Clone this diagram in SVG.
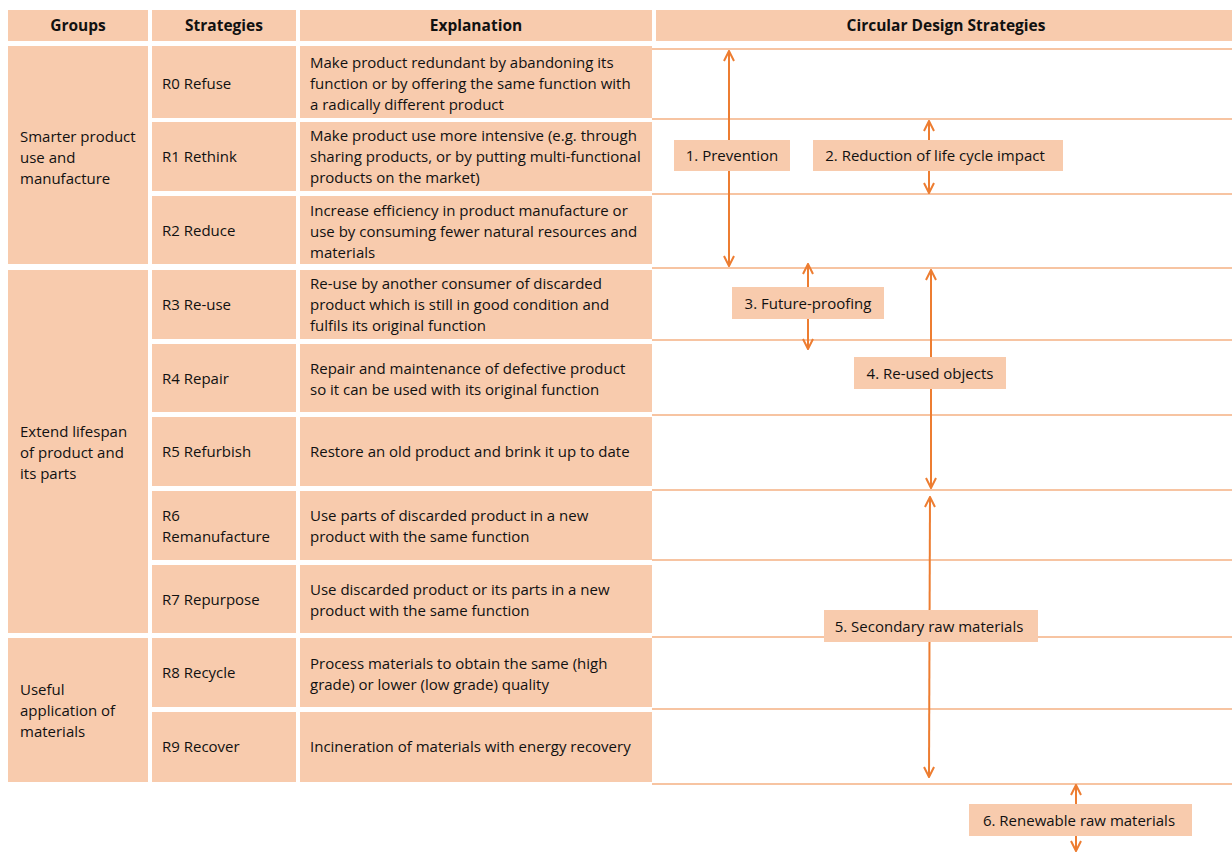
<svg xmlns="http://www.w3.org/2000/svg" width="1232" height="852" viewBox="0 0 1232 852">
  <defs>
    <style>
      .cell { fill: #f8cbad; }
      .t { font-family: "Open Sans", "Liberation Sans", sans-serif; font-size: 15px; fill: #111; }
      .h { font-family: "Open Sans", "Liberation Sans", sans-serif; font-size: 15.5px; font-weight: bold; fill: #111; text-anchor: middle; }
      .lbl { font-family: "Open Sans", "Liberation Sans", sans-serif; font-size: 15px; fill: #111; text-anchor: middle; }
      .rule { stroke: #f4b183; stroke-width: 1.5; fill: none; }
      .arr { stroke: #ed7d31; stroke-width: 2; fill: none; marker-start: url(#head); marker-end: url(#head); }
    </style>
    <marker id="head" viewBox="0 0 12 12" refX="11" refY="6" markerWidth="12" markerHeight="12" markerUnits="userSpaceOnUse" orient="auto-start-reverse">
      <path d="M1,1 L11,6 L1,11" fill="none" stroke="#ed7d31" stroke-width="2"/>
    </marker>
  </defs>

  <!-- header row -->
  <g id="header">
    <rect class="cell" x="8" y="10" width="140" height="31"/>
    <rect class="cell" x="152" y="10" width="144" height="31"/>
    <rect class="cell" x="300" y="10" width="352" height="31"/>
    <rect class="cell" x="656" y="10" width="576" height="31"/>
    <text class="h" x="78" y="31">Groups</text>
    <text class="h" x="224" y="31">Strategies</text>
    <text class="h" x="476" y="31">Explanation</text>
    <text class="h" x="946" y="31">Circular Design Strategies</text>
  </g>

  <!-- group cells -->
  <g id="group-smarter">
    <rect class="cell" x="8" y="46" width="140" height="218"/>
    <text class="t" x="20" y="142">Smarter product</text>
    <text class="t" x="20" y="163">use and</text>
    <text class="t" x="20" y="184">manufacture</text>
  </g>
  <g id="group-extend">
    <rect class="cell" x="8" y="270" width="140" height="363"/>
    <text class="t" x="20" y="437">Extend lifespan</text>
    <text class="t" x="20" y="458">of product and</text>
    <text class="t" x="20" y="479">its parts</text>
  </g>
  <g id="group-useful">
    <rect class="cell" x="8" y="638" width="140" height="144"/>
    <text class="t" x="20" y="695">Useful</text>
    <text class="t" x="20" y="716">application of</text>
    <text class="t" x="20" y="737">materials</text>
  </g>

  <!-- strategy rows -->
  <g id="r0">
    <rect class="cell" x="152" y="46" width="144" height="72"/>
    <rect class="cell" x="300" y="46" width="352" height="72"/>
    <text class="t" x="162" y="89">R0 Refuse</text>
    <text class="t" x="310" y="68">Make product redundant by abandoning its</text>
    <text class="t" x="310" y="89">function or by offering the same function with</text>
    <text class="t" x="310" y="110">a radically different product</text>
  </g>
  <g id="r1">
    <rect class="cell" x="152" y="122" width="144" height="69"/>
    <rect class="cell" x="300" y="122" width="352" height="69"/>
    <text class="t" x="162" y="162">R1 Rethink</text>
    <text class="t" x="310" y="141">Make product use more intensive (e.g. through</text>
    <text class="t" x="310" y="162">sharing products, or by putting multi-functional</text>
    <text class="t" x="310" y="183">products on the market)</text>
  </g>
  <g id="r2">
    <rect class="cell" x="152" y="196" width="144" height="68"/>
    <rect class="cell" x="300" y="196" width="352" height="68"/>
    <text class="t" x="162" y="236">R2 Reduce</text>
    <text class="t" x="310" y="216">Increase efficiency in product manufacture or</text>
    <text class="t" x="310" y="237">use by consuming fewer natural resources and</text>
    <text class="t" x="310" y="258">materials</text>
  </g>
  <g id="r3">
    <rect class="cell" x="152" y="270" width="144" height="69"/>
    <rect class="cell" x="300" y="270" width="352" height="69"/>
    <text class="t" x="162" y="310">R3 Re-use</text>
    <text class="t" x="310" y="289">Re-use by another consumer of discarded</text>
    <text class="t" x="310" y="310">product which is still in good condition and</text>
    <text class="t" x="310" y="331">fulfils its original function</text>
  </g>
  <g id="r4">
    <rect class="cell" x="152" y="344" width="144" height="68"/>
    <rect class="cell" x="300" y="344" width="352" height="68"/>
    <text class="t" x="162" y="384">R4 Repair</text>
    <text class="t" x="310" y="374">Repair and maintenance of defective product</text>
    <text class="t" x="310" y="395">so it can be used with its original function</text>
  </g>
  <g id="r5">
    <rect class="cell" x="152" y="417" width="144" height="69"/>
    <rect class="cell" x="300" y="417" width="352" height="69"/>
    <text class="t" x="162" y="457">R5 Refurbish</text>
    <text class="t" x="310" y="457">Restore an old product and brink it up to date</text>
  </g>
  <g id="r6">
    <rect class="cell" x="152" y="491" width="144" height="69"/>
    <rect class="cell" x="300" y="491" width="352" height="69"/>
    <text class="t" x="162" y="521">R6</text>
    <text class="t" x="162" y="542">Remanufacture</text>
    <text class="t" x="310" y="521">Use parts of discarded product in a new</text>
    <text class="t" x="310" y="542">product with the same function</text>
  </g>
  <g id="r7">
    <rect class="cell" x="152" y="565" width="144" height="68"/>
    <rect class="cell" x="300" y="565" width="352" height="68"/>
    <text class="t" x="162" y="605">R7 Repurpose</text>
    <text class="t" x="310" y="595">Use discarded product or its parts in a new</text>
    <text class="t" x="310" y="616">product with the same function</text>
  </g>
  <g id="r8">
    <rect class="cell" x="152" y="638" width="144" height="69"/>
    <rect class="cell" x="300" y="638" width="352" height="69"/>
    <text class="t" x="162" y="678">R8 Recycle</text>
    <text class="t" x="310" y="669">Process materials to obtain the same (high</text>
    <text class="t" x="310" y="690">grade) or lower (low grade) quality</text>
  </g>
  <g id="r9">
    <rect class="cell" x="152" y="712" width="144" height="70"/>
    <rect class="cell" x="300" y="712" width="352" height="70"/>
    <text class="t" x="162" y="752">R9 Recover</text>
    <text class="t" x="310" y="752">Incineration of materials with energy recovery</text>
  </g>

  <!-- row rules across the strategy area -->
  <g id="rules">
    <line class="rule" x1="652" y1="49" x2="1232" y2="49"/>
    <line class="rule" x1="652" y1="119" x2="1232" y2="119"/>
    <line class="rule" x1="652" y1="194" x2="1232" y2="194"/>
    <line class="rule" x1="652" y1="268" x2="1232" y2="268"/>
    <line class="rule" x1="652" y1="340" x2="1232" y2="340"/>
    <line class="rule" x1="652" y1="415" x2="1232" y2="415"/>
    <line class="rule" x1="652" y1="490" x2="1232" y2="490"/>
    <line class="rule" x1="652" y1="560" x2="1232" y2="560"/>
    <line class="rule" x1="652" y1="637" x2="1232" y2="637"/>
    <line class="rule" x1="652" y1="709" x2="1232" y2="709"/>
    <line class="rule" x1="652" y1="784" x2="1232" y2="784"/>
  </g>

  <!-- range arrows -->
  <g id="connectors">
    <line class="arr" x1="729" y1="51" x2="729" y2="266"/>
    <line class="arr" x1="929" y1="121" x2="929" y2="193"/>
    <line class="arr" x1="808" y1="264" x2="808" y2="349"/>
    <line class="arr" x1="931" y1="270" x2="931" y2="488"/>
    <line class="arr" x1="930" y1="497" x2="929" y2="777"/>
    <line class="arr" x1="1076" y1="785" x2="1076" y2="851"/>
  </g>

  <!-- range labels -->
  <g id="label-prevention">
    <rect class="cell" x="674" y="140" width="116" height="31"/>
    <text class="lbl" x="732" y="161">1. Prevention</text>
  </g>
  <g id="label-reduction">
    <rect class="cell" x="813" y="140" width="250" height="31"/>
    <text class="lbl" x="935" y="161">2. Reduction of life cycle impact</text>
  </g>
  <g id="label-future">
    <rect class="cell" x="732" y="287" width="152" height="32"/>
    <text class="lbl" x="808" y="309">3. Future-proofing</text>
  </g>
  <g id="label-reused">
    <rect class="cell" x="854" y="357" width="152" height="32"/>
    <text class="lbl" x="930" y="379">4. Re-used objects</text>
  </g>
  <g id="label-secondary">
    <rect class="cell" x="824" y="610" width="214" height="32"/>
    <text class="lbl" x="929" y="632">5. Secondary raw materials</text>
  </g>
  <g id="label-renewable">
    <rect class="cell" x="969" y="804" width="223" height="32"/>
    <text class="lbl" x="1079" y="826">6. Renewable raw materials</text>
  </g>
</svg>
